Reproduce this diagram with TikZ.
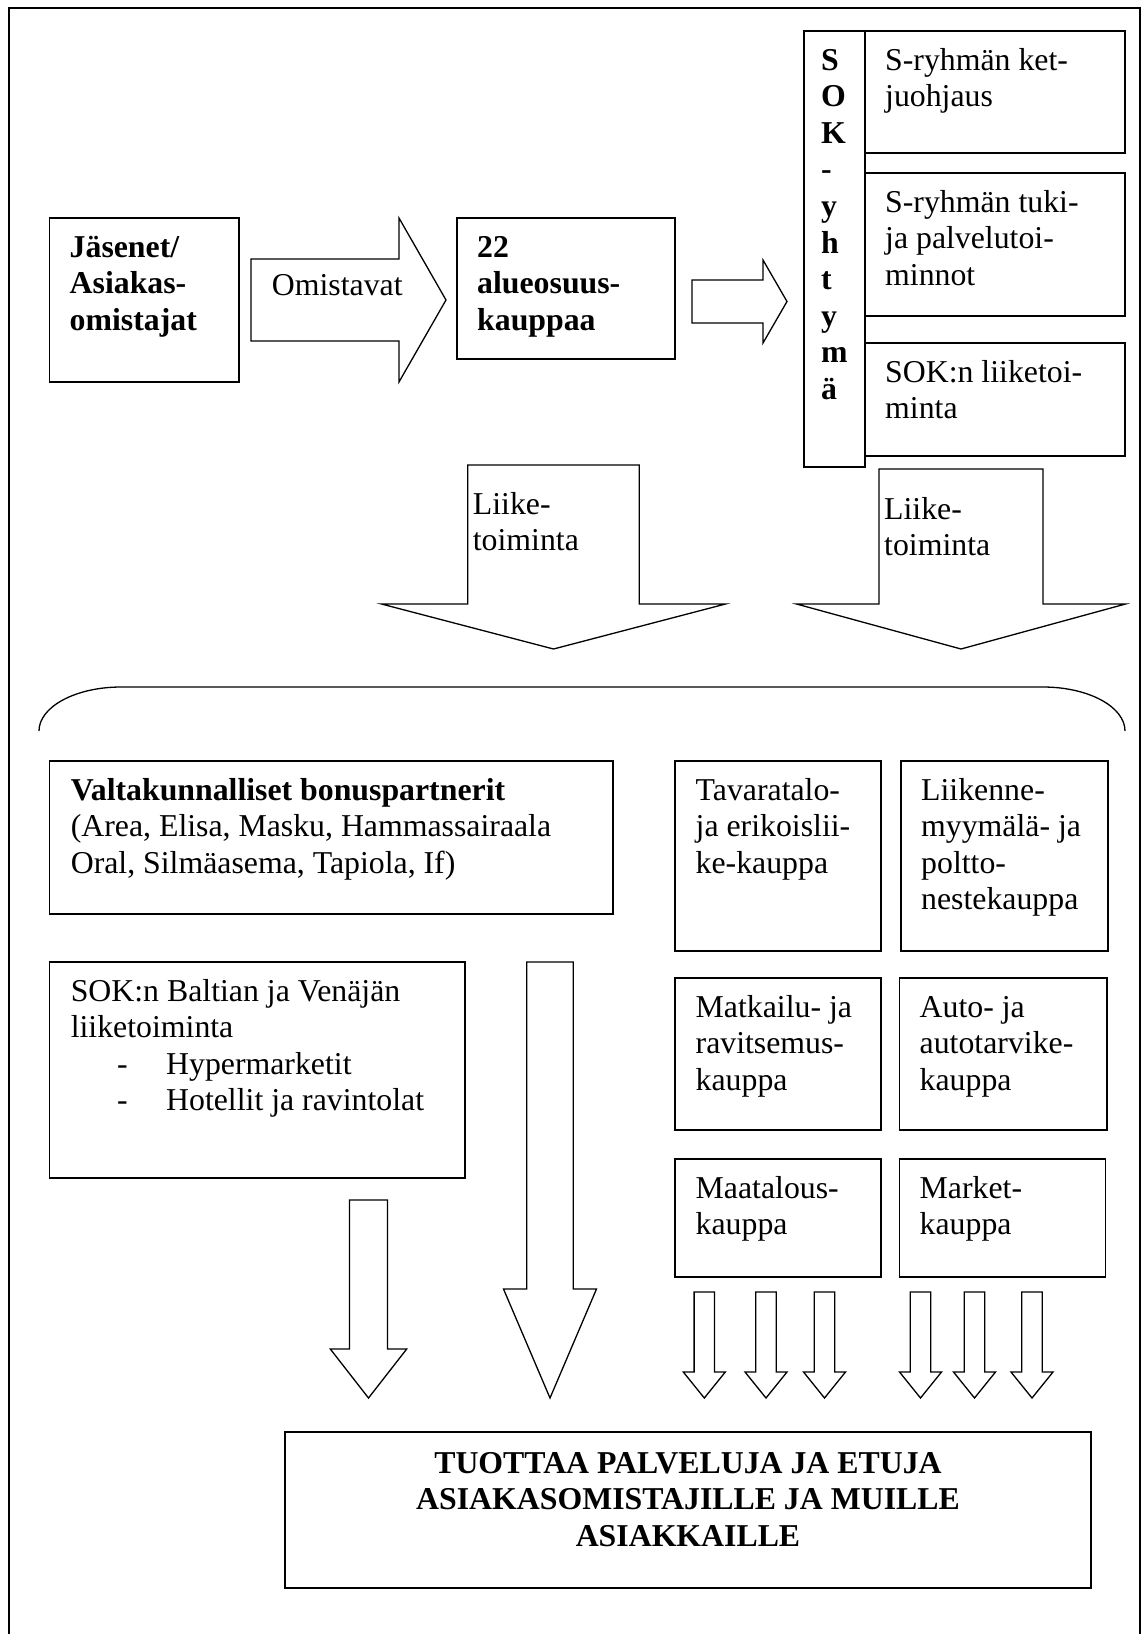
\documentclass[tikz,border=0pt]{standalone}
\usepackage{fontspec}
\setmainfont{Liberation Serif}
\usetikzlibrary{fit}
\newcommand\dgfont{\fontsize{31.8pt}{36.6pt}\selectfont}
\newcommand\dgdown[6]{\draw[blk] ({#1-#2},#4) -- ({#1+#2},#4) -- ({#1+#2},#5) -- ({#1+#3},#5) -- (#1,#6) -- ({#1-#3},#5) -- ({#1-#2},#5) -- cycle;}
\begin{document}
\begin{tikzpicture}[x=1pt,y=-1pt,
  box/.style={draw, line width=1.6pt, inner sep=0pt},
  blk/.style={draw, line width=1.3pt, fill=white, line join=miter},
  txt/.style={anchor=base west, inner sep=0pt, align=left, font=\dgfont},
  txtb/.style={txt, font=\dgfont\bfseries},
]
\useasboundingbox (0,0) rectangle (1142,1634);
% outer frame
\draw[line width=2.2pt] (9,1645) -- (9,8) -- (1140,8) -- (1140,1645);

% top row (text nodes anchored at the baseline of their last line)
\node[box, fit={(49.5,218) (239,382)}] (jas) {};
\node[txtb] (tjas) at (69.5,330.2) {Jäsenet/\\Asiakas-\\omistajat};
\draw[blk] (251,259) -- (399,259) -- (399,218) -- (446,300) -- (399,382) -- (399,341) -- (251,341) -- cycle;
\node[txt] (tomi) at (271.7,295) {Omistavat};
\node[box, fit={(457,218) (675,359)}] (osk) {};
\node[txtb] (tosk) at (477,330.2) {22\\alueosuus-\\kauppaa};
\draw[blk] (692,280) -- (763,280) -- (763,260) -- (787,301.5) -- (763,343) -- (763,323) -- (692,323) -- cycle;

% SOK column
\node[box, fit={(804,31) (865,467)}] (sok) {};
\node[txtb] (tsok) at (821,399.4) {S\\O\\K\\-\\y\\h\\t\\y\\m\\ä};
\node[box, fit={(865,31) (1125,153)}] (b1) {};
\node[txt] (tb1) at (885,106.6) {S-ryhmän ket-\\juohjaus};
\node[box, fit={(865,173) (1125,316)}] (b2) {};
\node[txt] (tb2) at (885,285.2) {S-ryhmän tuki-\\ja palvelutoi-\\minnot};
\node[box, fit={(865,343) (1125,456)}] (b3) {};
\node[txt] (tb3) at (885,418.6) {SOK:n liiketoi-\\minta};

% Liiketoiminta arrows
\dgdown{553.5}{85.7}{172}{465}{604}{649}
\node[txt] (tl1) at (472.7,550.6) {Liike-\\toiminta};
\dgdown{961}{82}{164.5}{469}{604}{649}
\node[txt] (tl2) at (884,555.6) {Liike-\\toiminta};

% brace
\draw[line width=1.3pt] (39,731) .. controls (39,706.7) and (75.7,687) .. (121,687)
  -- (1043,687) .. controls (1088.3,687) and (1125,706.7) .. (1125,731);

% middle boxes
\node[box, fit={(49.5,761) (613,914)}] (val) {};
\node[txt] (tval) at (70.6,873.2) {\textbf{Valtakunnalliset bonuspartnerit}\\(Area, Elisa, Masku, Hammassairaala\\Oral, Silmäasema, Tapiola, If)};
\node[box, fit={(675,761) (881,951)}] (tav) {};
\node[txt] (ttav) at (695.5,873.2) {Tavaratalo-\\ja erikoislii-\\ke-kauppa};
\node[box, fit={(901,761) (1108,951)}] (lii) {};
\node[txt] (tlii) at (921,909.8) {Liikenne-\\myymälä- ja\\poltto-\\nestekauppa};
\node[box, fit={(49.5,962) (465,1178)}] (bal) {};
\node[txt] (tbal) at (70.6,1110.8) {SOK:n Baltian ja Venäjän\\liiketoiminta\\\hspace*{46.4pt}\makebox[49pt][l]{-}Hypermarketit\\\hspace*{46.4pt}\makebox[49pt][l]{-}Hotellit ja ravintolat};
\node[box, fit={(675,978) (881,1130)}] (mat) {};
\node[txt] (tmat) at (695.5,1090.2) {Matkailu- ja\\ravitsemus-\\kauppa};
\node[box, fit={(899.5,978) (1107,1130)}] (aut) {};
\node[txt] (taut) at (919.5,1090.2) {Auto- ja\\autotarvike-\\kauppa};
\node[box, fit={(675,1159) (881,1277)}] (maa) {};
\node[txt] (tmaa) at (695.5,1234.6) {Maatalous-\\kauppa};
\node[box, fit={(899.5,1159) (1105.6,1277)}] (mar) {};
\node[txt] (tmar) at (919.5,1234.6) {Market-\\kauppa};

% down arrows
\dgdown{368.5}{19}{38.2}{1200}{1349}{1398}
\dgdown{550}{23.3}{46.5}{962}{1289}{1398}
\foreach \c in {704.3,766,824.5,920.5,974.5,1032}{\dgdown{\c}{10.2}{21}{1292}{1372}{1398}}

% bottom box
\node[box, fit={(285,1432) (1091,1588)}] (res) {};
\node[anchor=base, inner sep=0pt, align=center, font=\dgfont\bfseries] (tres) at (688,1546.2) {TUOTTAA PALVELUJA JA ETUJA\\ASIAKASOMISTAJILLE JA MUILLE\\ASIAKKAILLE};
\end{tikzpicture}
\end{document}
